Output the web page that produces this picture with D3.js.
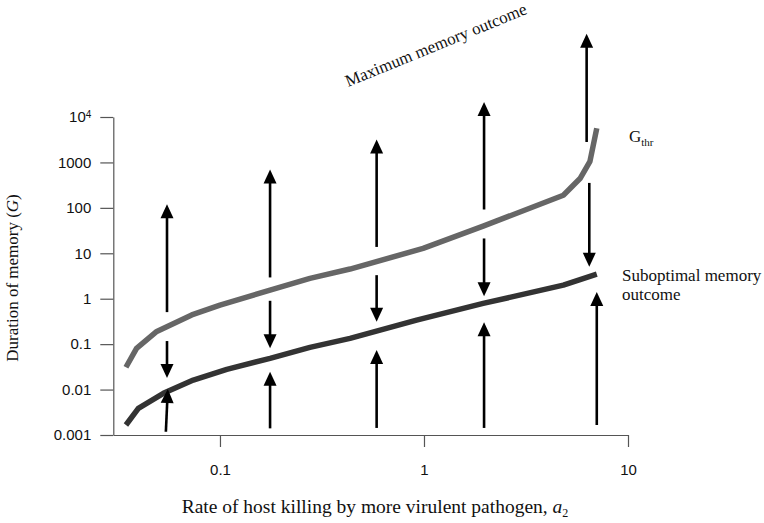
<!DOCTYPE html>
<html>
<head>
<meta charset="utf-8">
<script src="https://cdn.jsdelivr.net/npm/d3@7"></script>
<style>
  html, body { margin: 0; padding: 0; background: #fff; }
  svg { display: block; }
  .tick text { font-family: "Liberation Sans", Arial, sans-serif; font-size: 15px; fill: #111; }
  .serif { font-family: "Liberation Serif", "Times New Roman", serif; fill: #111; }
</style>
</head>
<body>
<svg id="chart" width="764" height="523"></svg>
<script>
// Threshold memory duration G_thr against host-killing rate a2
const gThrA = [0.0346, 0.039, 0.049, 0.0727, 0.1, 0.176, 0.276, 0.434, 0.99, 1.95, 4.82, 5.82, 6.51, 7.03];
const gThrG = [0.031, 0.081, 0.19, 0.44, 0.72, 1.55, 2.8, 4.5, 12.8, 39.5, 190, 442, 1060, 5650];

// Suboptimal memory outcome curve
const subA = [0.0346, 0.0398, 0.0528, 0.074, 0.108, 0.176, 0.276, 0.434, 0.92, 1.95, 4.82, 7.03];
const subG = [0.00166, 0.00386, 0.00826, 0.0162, 0.0279, 0.0486, 0.085, 0.134, 0.338, 0.787, 1.99, 3.47];

// Direction arrows: [a2 at tail, a2 at head, G at tail, G at head]
const risingArrows = [
  [0.055, 0.055, 0.507, 120],
  [0.176, 0.176, 2.94, 697],
  [0.586, 0.586, 13.8, 3190],
  [1.97, 1.97, 92, 21400],
  [6.27, 6.27, 2820, 684000]
];
const fallingArrows = [
  [0.055, 0.055, 0.117, 0.018],
  [0.176, 0.176, 0.9, 0.081],
  [0.586, 0.586, 3.3, 0.31],
  [1.97, 1.97, 21.2, 1.14],
  [6.46, 6.46, 354, 5.03]
];
const lowerArrows = [
  [0.0543, 0.0555, 0.00118, 0.0103],
  [0.176, 0.176, 0.0014, 0.0247],
  [0.586, 0.586, 0.00143, 0.074],
  [1.97, 1.97, 0.00143, 0.305],
  [7.03, 7.03, 0.00166, 1.40]
];

// Axis ticks
const xTicks = [0.1, 1, 10];
const xTickLabels = ["0.1", "1", "10"];
const yTicks = [0.001, 0.01, 0.1, 1, 10, 100, 1000, 10000];
const yTickLabels = ["0.001", "0.01", "0.1", "1", "10", "100", "1000", "10^4"];

const svg = d3.select("#chart");
const plot = { left: 113.3, right: 628, top: 117, bottom: 435 };

const x = d3.scaleLog().domain([0.03, 10]).range([plot.left, plot.right]);
const y = d3.scaleLog().domain([0.001, 10000]).range([plot.bottom, plot.top]);

// Axes
const xAxis = svg.append("g")
  .attr("transform", `translate(0,${plot.bottom})`)
  .call(d3.axisBottom(x).tickValues(xTicks).tickSize(12).tickSizeOuter(0).tickPadding(17)
    .tickFormat((d, i) => xTickLabels[i]));

const yAxis = svg.append("g")
  .attr("transform", `translate(${plot.left},0)`)
  .call(d3.axisLeft(y).tickValues(yTicks).tickSize(13).tickSizeOuter(0).tickPadding(9)
    .tickFormat((d, i) => yTickLabels[i]));

[xAxis, yAxis].forEach(g => {
  g.select(".domain").attr("stroke", "#555").attr("stroke-width", 1.2);
  g.selectAll(".tick line").attr("stroke", "#555").attr("stroke-width", 1.2);
});

// power-of-ten label with superscript
yAxis.selectAll(".tick text").filter(d => d === 10000).each(function () {
  const t = d3.select(this);
  t.text(null);
  t.append("tspan").text("10");
  t.append("tspan").attr("dy", "-0.45em").attr("font-size", "10px").text("4");
});

// Curves
const line = d3.line().x(d => x(d[0])).y(d => y(d[1]));
svg.append("path")
  .datum(gThrA.map((a, i) => [a, gThrG[i]]))
  .attr("d", line)
  .attr("fill", "none").attr("stroke", "#666").attr("stroke-width", 5.5)
  .attr("stroke-linejoin", "round").attr("stroke-linecap", "butt");
svg.append("path")
  .datum(subA.map((a, i) => [a, subG[i]]))
  .attr("d", line)
  .attr("fill", "none").attr("stroke", "#333").attr("stroke-width", 5.5)
  .attr("stroke-linejoin", "round").attr("stroke-linecap", "butt");

// Arrows
const headLen = 14, headHalf = 6.5;
const arrows = svg.append("g");
risingArrows.concat(fallingArrows, lowerArrows).forEach(([a0, a1, g0, g1]) => {
  const x0 = x(a0), y0 = y(g0), x1 = x(a1), y1 = y(g1);
  const len = Math.hypot(x1 - x0, y1 - y0);
  const ux = (x1 - x0) / len, uy = (y1 - y0) / len;
  const bx = x1 - ux * headLen, by = y1 - uy * headLen;
  arrows.append("line")
    .attr("x1", x0).attr("y1", y0).attr("x2", bx + ux * 1).attr("y2", by + uy * 1)
    .attr("stroke", "#000").attr("stroke-width", 2.6);
  arrows.append("path")
    .attr("d", `M${x1},${y1}L${bx - uy * headHalf},${by + ux * headHalf}L${bx + uy * headHalf},${by - ux * headHalf}Z`)
    .attr("fill", "#000");
});

// Annotations
svg.append("text").attr("class", "serif")
  .attr("transform", "translate(348,87) rotate(-22.2)")
  .attr("font-size", "17px")
  .text("Maximum memory outcome");

const gt = svg.append("text").attr("class", "serif")
  .attr("x", 629).attr("y", 142).attr("font-size", "17px");
gt.append("tspan").text("G");
gt.append("tspan").attr("dy", "4").attr("font-size", "11px").text("thr");

svg.append("text").attr("class", "serif")
  .attr("x", 622).attr("y", 281).attr("font-size", "17px")
  .text("Suboptimal memory");
svg.append("text").attr("class", "serif")
  .attr("x", 622).attr("y", 300).attr("font-size", "17px")
  .text("outcome");

// Axis titles
const xt = svg.append("text").attr("class", "serif")
  .attr("x", 375).attr("y", 513)
  .attr("text-anchor", "middle").attr("font-size", "19.5px");
xt.append("tspan").text("Rate of host killing by more virulent pathogen, ");
xt.append("tspan").attr("font-style", "italic").text("a");
xt.append("tspan").attr("dy", "4").attr("font-size", "12px").text("2");

const yt = svg.append("text").attr("class", "serif")
  .attr("transform", `translate(18,${(plot.top + plot.bottom) / 2 + 2}) rotate(-90)`)
  .attr("text-anchor", "middle").attr("font-size", "17px");
yt.append("tspan").text("Duration of memory (");
yt.append("tspan").attr("font-style", "italic").text("G");
yt.append("tspan").text(")");
</script>
</body>
</html>
